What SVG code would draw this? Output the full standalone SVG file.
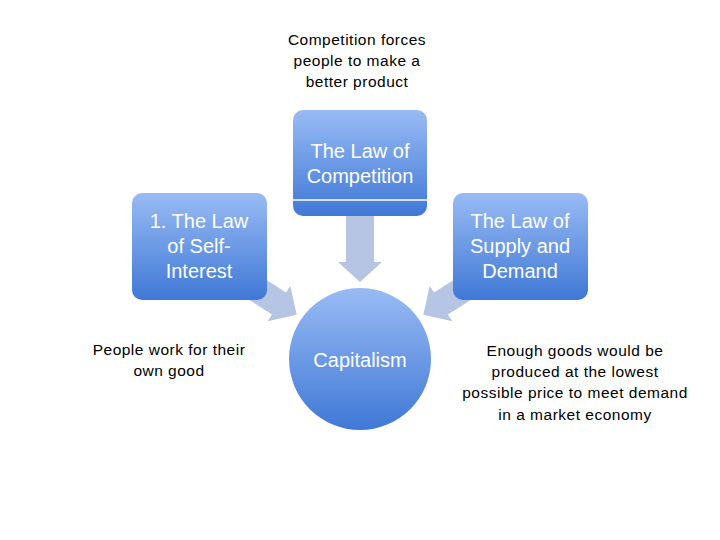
<svg xmlns="http://www.w3.org/2000/svg" width="720" height="540" viewBox="0 0 720 540">
<defs>
<linearGradient id="g" x1="0" y1="0" x2="0" y2="1">
<stop offset="0" stop-color="#99bbf4"/>
<stop offset="1" stop-color="#3f78d6"/>
</linearGradient>
<style>
.box{fill:url(#g);}
.arr{fill:#b6c5e4;}
.lbl{font-family:"Liberation Sans",Arial,sans-serif;font-size:20px;fill:#ffffff;text-anchor:middle;}
.note{font-family:"Liberation Sans",Arial,sans-serif;font-size:15.5px;letter-spacing:0.5px;fill:#000000;text-anchor:middle;}
</style>
</defs>
<rect width="720" height="540" fill="#ffffff"/>
<g id="connectors">
<polygon class="arr" points="346,210 374,210 374,262 382,262 360,282 338,262 346,262"/>
<polygon class="arr" points="252.3,271 286,292.5 290.3,285.8 296.7,314.8 267.7,321.2 272,314.5 238.3,293"/>
<polygon class="arr" points="467.7,271 434,292.5 429.7,285.8 423.3,314.8 452.3,321.2 448,314.5 481.7,293"/>
</g>
<g id="competition">
<rect class="box" x="293" y="110" width="134" height="106" rx="10"/>
<line x1="293" y1="200" x2="427" y2="200" stroke="#ffffff" stroke-width="1.5"/>
<text class="lbl" x="360" y="158">The Law of</text>
<text class="lbl" x="360" y="183">Competition</text>
</g>
<g id="self-interest">
<rect class="box" x="132" y="193" width="135" height="107" rx="10"/>
<text class="lbl" x="199" y="228">1. The Law</text>
<text class="lbl" x="199" y="253">of Self-</text>
<text class="lbl" x="199" y="278">Interest</text>
</g>
<g id="supply-demand">
<rect class="box" x="453" y="193" width="135" height="107" rx="10"/>
<text class="lbl" x="520" y="228">The Law of</text>
<text class="lbl" x="520" y="253">Supply and</text>
<text class="lbl" x="520" y="278">Demand</text>
</g>
<g id="capitalism">
<circle class="box" cx="360" cy="359" r="71"/>
<text class="lbl" x="360" y="367">Capitalism</text>
</g>
<g id="notes">
<text class="note" x="357" y="45">Competition forces</text>
<text class="note" x="357" y="66">people to make a</text>
<text class="note" x="357" y="87">better product</text>
<text class="note" x="169" y="355">People work for their</text>
<text class="note" x="169" y="376">own good</text>
<text class="note" x="575" y="356">Enough goods would be</text>
<text class="note" x="575" y="377">produced at the lowest</text>
<text class="note" x="575" y="398">possible price to meet demand</text>
<text class="note" x="575" y="420">in a market economy</text>
</g>
</svg>
